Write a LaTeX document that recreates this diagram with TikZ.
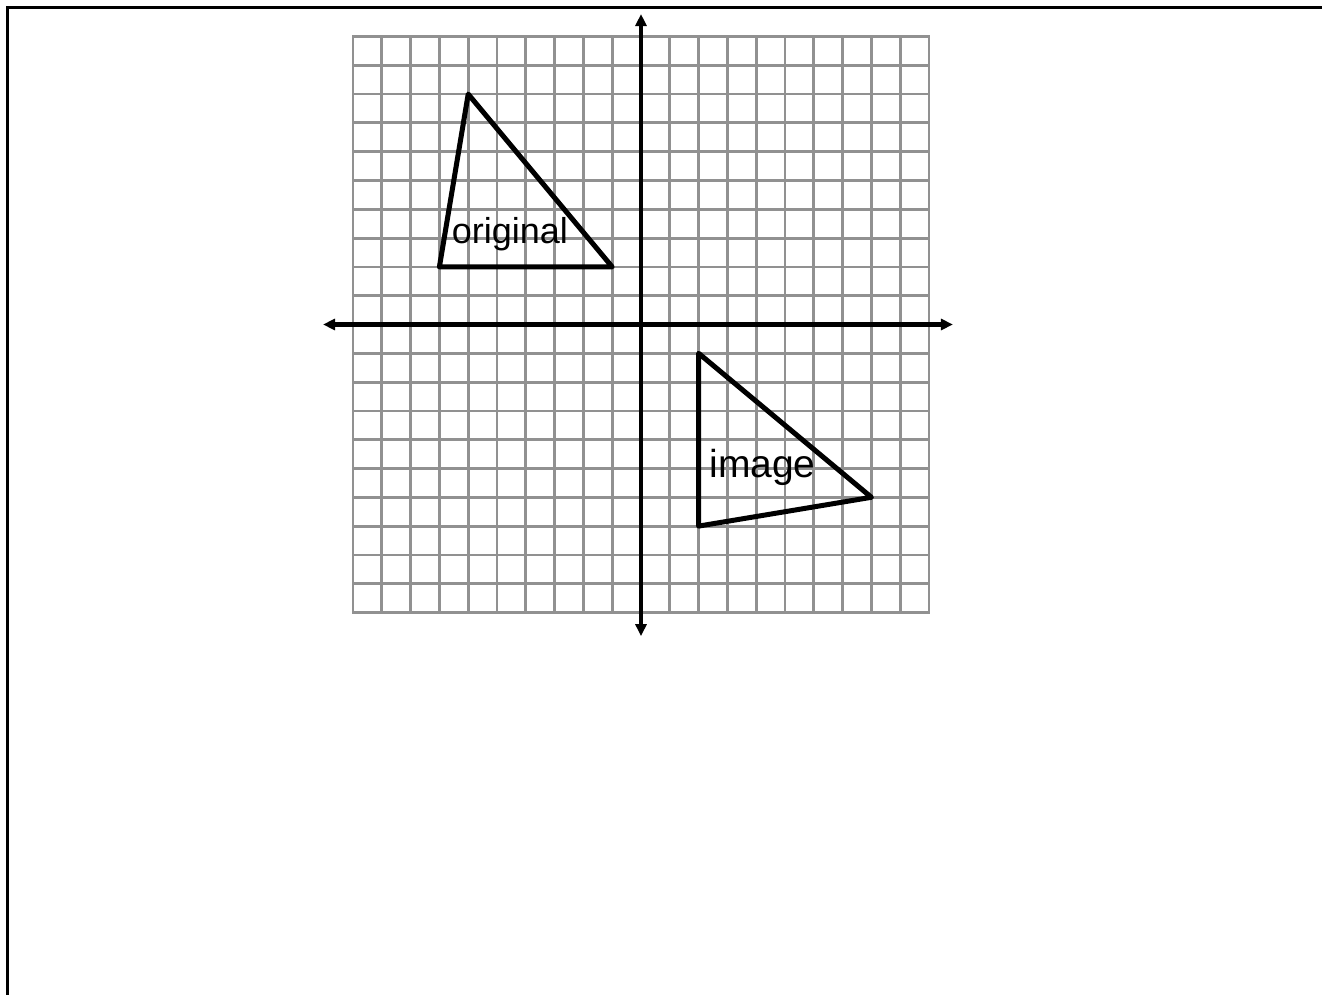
\documentclass[tikz,border=0pt]{standalone}
\usepackage{fontspec}
\setmainfont{Liberation Sans}
\usetikzlibrary{arrows.meta}
\definecolor{gridgray}{RGB}{145,145,145}
\begin{document}
\begin{tikzpicture}[x=1pt,y=-1pt,
  frameline/.style={line width=3pt,black},
  gridline/.style={line width=2.8pt,gridgray},
  axisline/.style={line width=4.5pt,black,{Triangle[length=12pt,width=11pt]}-{Triangle[length=12pt,width=11pt]}},
  triline/.style={line width=5pt,black,line join=round},
  lbl/.style={font=\fontsize{36}{40}\selectfont,anchor=base,inner sep=0pt}]
\useasboundingbox (0,0) rectangle (1322,995);
\draw[frameline] (7.5,995) -- (7.5,8) -- (1322,8);
\begin{scope}[shift={(641,324.5)},x=28.8pt,y=28.8pt]
  \foreach \k in {-9,...,9} {
    \draw[gridline] (\k,-10) -- (\k,10);
    \draw[gridline] (-10,\k) -- (10,\k);
  }
  \draw[gridline] (-10,-10) rectangle (10,10);
  \coordinate (xl) at (-11.04,0);
  \coordinate (xr) at (10.83,0);
  \coordinate (yt) at (0,10.78);
  \coordinate (yb) at (0,-10.82);
  \draw[axisline] (xl) -- (xr);
  \draw[axisline] (yb) -- (yt);
  \coordinate (oA) at (-6,8);
  \coordinate (oB) at (-7,2);
  \coordinate (oC) at (-1,2);
  \draw[triline] (oA) -- (oB) -- (oC) -- cycle;
  \coordinate (iA) at (2,-1);
  \coordinate (iB) at (2,-7);
  \coordinate (iC) at (8,-6);
  \draw[triline] (iA) -- (iB) -- (iC) -- cycle;
  \node[lbl] (orig) at (-4.55,2.81) {original};
  \node[lbl,font=\fontsize{39}{44}\selectfont] (img) at (4.22,-5.31) {image};
\end{scope}
\end{tikzpicture}
\end{document}
